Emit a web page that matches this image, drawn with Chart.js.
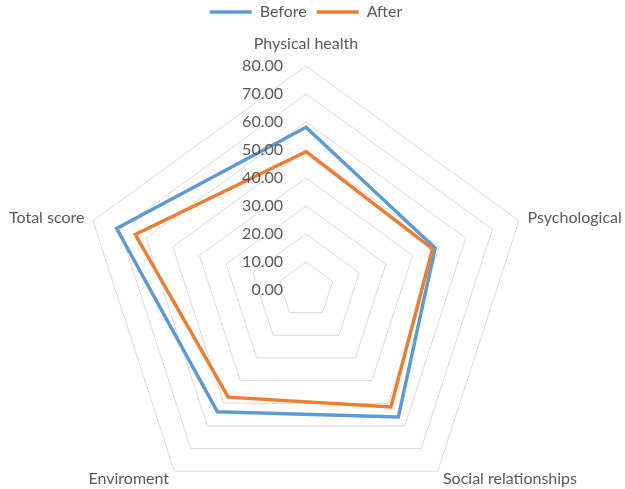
<!DOCTYPE html>
<html>
<head>
<meta charset="utf-8">
<script src="https://cdn.jsdelivr.net/npm/chart.js@4/dist/chart.umd.min.js"></script>
<style>
  html, body { margin: 0; padding: 0; background: #fff; }
  #wrap { width: 625px; height: 489px; overflow: hidden; position: relative; }
  canvas { display: block; }
</style>
</head>
<body>
<div id="wrap"><canvas id="radar" width="625" height="600"></canvas></div>
<script>
// Axis categories and the two series
const categories = ['Physical health', 'Psychological', 'Social relationships', 'Enviroment', 'Total score'];
const beforeValues = [58.1, 48.5, 56.1, 53.8, 71.1];
const afterValues = [49.4, 47.5, 51.6, 47.3, 64.1];
const tickValues = [0, 10, 20, 30, 40, 50, 60, 70, 80];

const FONT = 'Lato, "Open Sans", sans-serif';
const TEXT_COLOR = '#595959';

// Draw axis tick labels to the left of the top spoke and category labels round the rim, like Excel does
const excelLabels = {
    id: 'excelLabels',
    afterDraw(chart) {
        const scale = chart.scales.r;
        const ctx = chart.ctx;
        ctx.save();
        ctx.font = '16px ' + FONT;
        ctx.fillStyle = TEXT_COLOR;

        // tick labels
        ctx.textAlign = 'right';
        ctx.textBaseline = 'middle';
        tickValues.forEach(v => {
            const y = scale.yCenter - scale.getDistanceFromCenterForValue(v);
            ctx.fillText(v.toFixed(2), scale.xCenter - 23, y);
        });

        // category labels
        categories.forEach((label, i) => {
            const pos = scale.getPointPosition(i, scale.drawingArea + 9);
            let align = 'center';
            if (pos.x > scale.xCenter + 5) align = 'left';
            else if (pos.x < scale.xCenter - 5) align = 'right';
            ctx.textAlign = align;
            ctx.textBaseline = 'middle';
            let y = pos.y;
            if (i === 0) y = pos.y - 13;
            ctx.fillText(label, pos.x, y);
        });
        ctx.restore();
    }
};

new Chart(document.getElementById('radar'), {
    type: 'radar',
    data: {
        labels: categories,
        datasets: [
            {
                label: 'Before',
                data: beforeValues,
                borderColor: '#5B9BD5',
                backgroundColor: '#5B9BD5',
                borderWidth: 3.5,
                borderJoinStyle: 'miter',
                pointRadius: 0,
                fill: false,
                order: 2
            },
            {
                label: 'After',
                data: afterValues,
                borderColor: '#ED7D31',
                backgroundColor: '#ED7D31',
                borderWidth: 3.5,
                borderJoinStyle: 'miter',
                pointRadius: 0,
                fill: false,
                order: 1
            }
        ]
    },
    options: {
        responsive: false,
        animation: false,
        layout: {
            padding: { left: 82, right: 95, top: -6, bottom: 50 }
        },
        plugins: {
            tooltip: { enabled: false },
            legend: {
                position: 'top',
                labels: {
                    usePointStyle: true,
                    pointStyle: 'line',
                    pointStyleWidth: 42,
                    color: TEXT_COLOR,
                    font: { family: FONT, size: 16 },
                    padding: 10,
                    sort: (a, b) => a.datasetIndex - b.datasetIndex
                }
            }
        },
        scales: {
            r: {
                min: 0,
                max: 80,
                ticks: { stepSize: 10, display: false },
                grid: { color: '#D9D9D9', lineWidth: 1 },
                angleLines: { display: false },
                pointLabels: { display: false }
            }
        }
    },
    plugins: [excelLabels]
});
</script>
</body>
</html>
